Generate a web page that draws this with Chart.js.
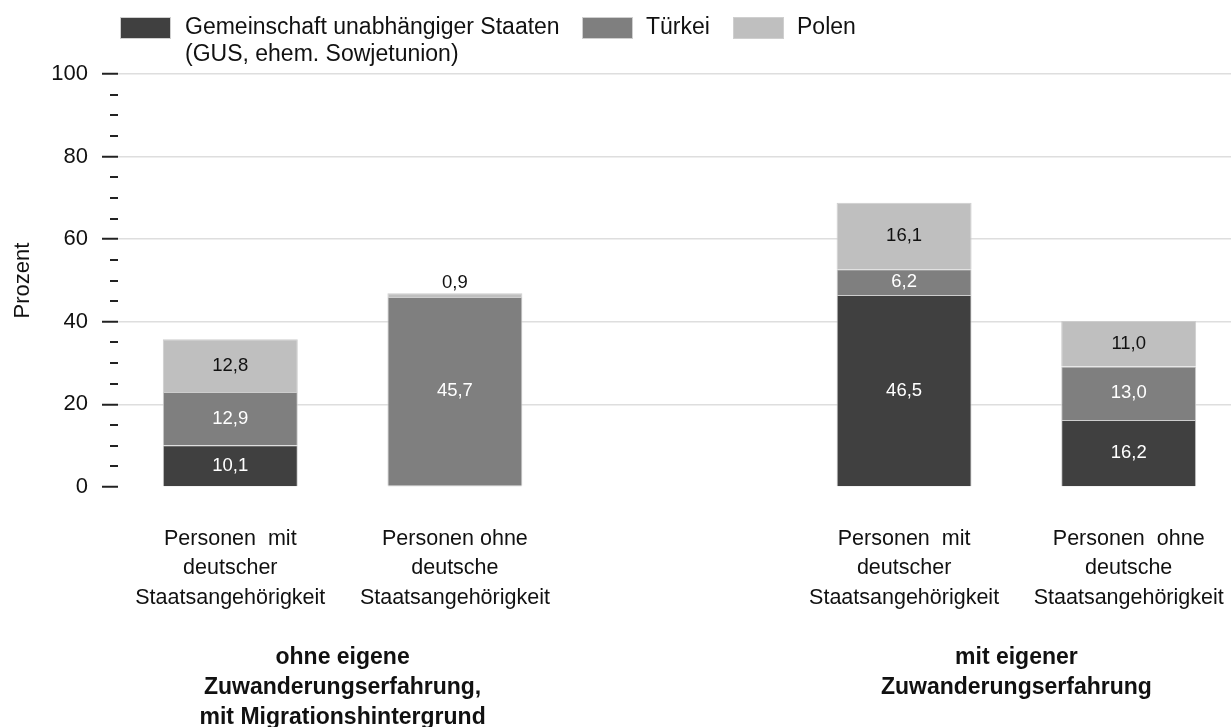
<!DOCTYPE html>
<html><head><meta charset="utf-8">
<script src="https://cdn.jsdelivr.net/npm/chart.js@4"></script>
<style>html,body{margin:0;padding:0;background:#fff;overflow:hidden;width:1231px;height:727px}
canvas{display:block}</style></head>
<body><canvas id="c" width="1241" height="727"></canvas>
<script>
const categories = [
  ["Personen  mit","deutscher","Staatsangehörigkeit"],
  ["Personen ohne","deutsche","Staatsangehörigkeit"],
  "",
  ["Personen  mit","deutscher","Staatsangehörigkeit"],
  ["Personen  ohne","deutsche","Staatsangehörigkeit"]
];
const seriesNames = [["Gemeinschaft unabhängiger Staaten","(GUS, ehem. Sowjetunion)"],["Türkei"],["Polen"]];
const gus     = [10.1, 0.3, null, 46.5, 16.2];
const tuerkei = [12.9, 45.7, null, 6.2, 13.0];
const polen   = [12.8, 0.9, null, 16.1, 11.0];
const groupLabels = [["ohne eigene","Zuwanderungserfahrung,","mit Migrationshintergrund"],["mit eigener","Zuwanderungserfahrung"]];
const groupMembers = [[0,1],[3,4]];
const yMax = 100, yStep = 20, yMinorStep = 5;

const FONT = '"Liberation Sans", Arial, sans-serif';
const colors = ['#404040', '#7f7f7f', '#bfbfbf'];
const labelColors = ['#ffffff', '#ffffff', '#111111'];

const fmt = v => v.toFixed(1).replace('.', ',');

const minorTicks = {
  id: 'minorTicks',
  afterDraw(chart) {
    const y = chart.scales.y, ctx = chart.ctx, left = chart.chartArea.left;
    ctx.save();
    ctx.strokeStyle = '#222'; ctx.lineWidth = 2;
    for (let v = 0; v <= yMax; v += yMinorStep) {
      if (v % yStep === 0) continue;
      const py = Math.round(y.getPixelForValue(v));
      ctx.beginPath(); ctx.moveTo(left - 8, py); ctx.lineTo(left, py); ctx.stroke();
    }
    ctx.restore();
  }
};

const valueLabels = {
  id: 'valueLabels',
  afterDatasetsDraw(chart) {
    const ctx = chart.ctx;
    ctx.save();
    ctx.font = '18.5px ' + FONT;
    ctx.textAlign = 'center'; ctx.textBaseline = 'middle';
    chart.data.datasets.forEach((ds, i) => {
      const meta = chart.getDatasetMeta(i);
      meta.data.forEach((el, j) => {
        const v = ds.data[j];
        if (v === null || v < 0.5) return;
        if (v < 3) {
          ctx.fillStyle = '#111';
          ctx.fillText(fmt(v), el.x, el.y - 10);
        } else {
          ctx.fillStyle = labelColors[i];
          ctx.fillText(fmt(v), el.x, (el.y + el.base) / 2);
        }
      });
    });
    ctx.restore();
  }
};

const customLegend = {
  id: 'customLegend',
  afterDraw(chart) {
    const ctx = chart.ctx;
    const boxX = [120, 582, 733], textX = [185, 646, 797];
    ctx.save();
    ctx.font = '23px ' + FONT;
    ctx.textBaseline = 'middle'; ctx.textAlign = 'left';
    chart.data.datasets.forEach((ds, i) => {
      ctx.fillStyle = ds.backgroundColor;
      ctx.fillRect(boxX[i], 17, 51, 22);
      ctx.strokeStyle = '#cfcfcf'; ctx.lineWidth = 1;
      ctx.strokeRect(boxX[i] + 0.5, 17.5, 50, 21);
      ctx.fillStyle = '#111';
      seriesNames[i].forEach((line, k) => ctx.fillText(line, textX[i], 28 + k * 27));
    });
    ctx.restore();
  }
};

const groupText = {
  id: 'groupText',
  afterDraw(chart) {
    const ctx = chart.ctx, x = chart.scales.x;
    ctx.save();
    ctx.font = 'bold 23px ' + FONT;
    ctx.textAlign = 'center'; ctx.textBaseline = 'middle'; ctx.fillStyle = '#111';
    groupLabels.forEach((lines, g) => {
      const m = groupMembers[g];
      const cx = m.reduce((s, idx) => s + x.getPixelForValue(idx), 0) / m.length;
      lines.forEach((line, k) => ctx.fillText(line, cx, 658 + k * 30));
    });
    ctx.restore();
  }
};

new Chart(document.getElementById('c'), {
  type: 'bar',
  data: {
    labels: categories,
    datasets: [
      { label: seriesNames[0].join(' '), data: gus, backgroundColor: colors[0] },
      { label: seriesNames[1].join(' '), data: tuerkei, backgroundColor: colors[1] },
      { label: seriesNames[2].join(' '), data: polen, backgroundColor: colors[2] }
    ]
  },
  options: {
    responsive: false,
    animation: false,
    layout: { padding: { top: 74, left: 0, right: 0, bottom: 0 } },
    datasets: { bar: { categoryPercentage: 1, barPercentage: 0.601, borderWidth: 1, borderColor: '#cdcdcd' } },
    plugins: { legend: { display: false }, tooltip: { enabled: false } },
    scales: {
      x: {
        stacked: true,
        grid: { display: false, drawTicks: false },
        border: { display: false },
        ticks: { color: '#111', padding: 37, maxRotation: 0, autoSkip: false,
                 font: { family: FONT, size: 21.5, lineHeight: 1.37 } },
        afterFit(s) { s.height = 240; s.paddingLeft = 0; s.paddingRight = 0; }
      },
      y: {
        stacked: true, min: 0, max: yMax,
        border: { display: false },
        grid: {
          color: c => (c.tick && c.tick.value === 0) ? 'rgba(0,0,0,0)' : '#dedede',
          lineWidth: 1.5, tickLength: 16, tickWidth: 2, tickColor: '#222'
        },
        ticks: { stepSize: yStep, color: '#111', padding: 14, font: { family: FONT, size: 22 } },
        title: { display: true, text: 'Prozent', color: '#111', padding: { top: 10, bottom: 0 },
                 font: { family: FONT, size: 22 } },
        afterFit(s) { s.width = 118; }
      }
    }
  },
  plugins: [minorTicks, valueLabels, customLegend, groupText]
});
</script>
</body></html>
